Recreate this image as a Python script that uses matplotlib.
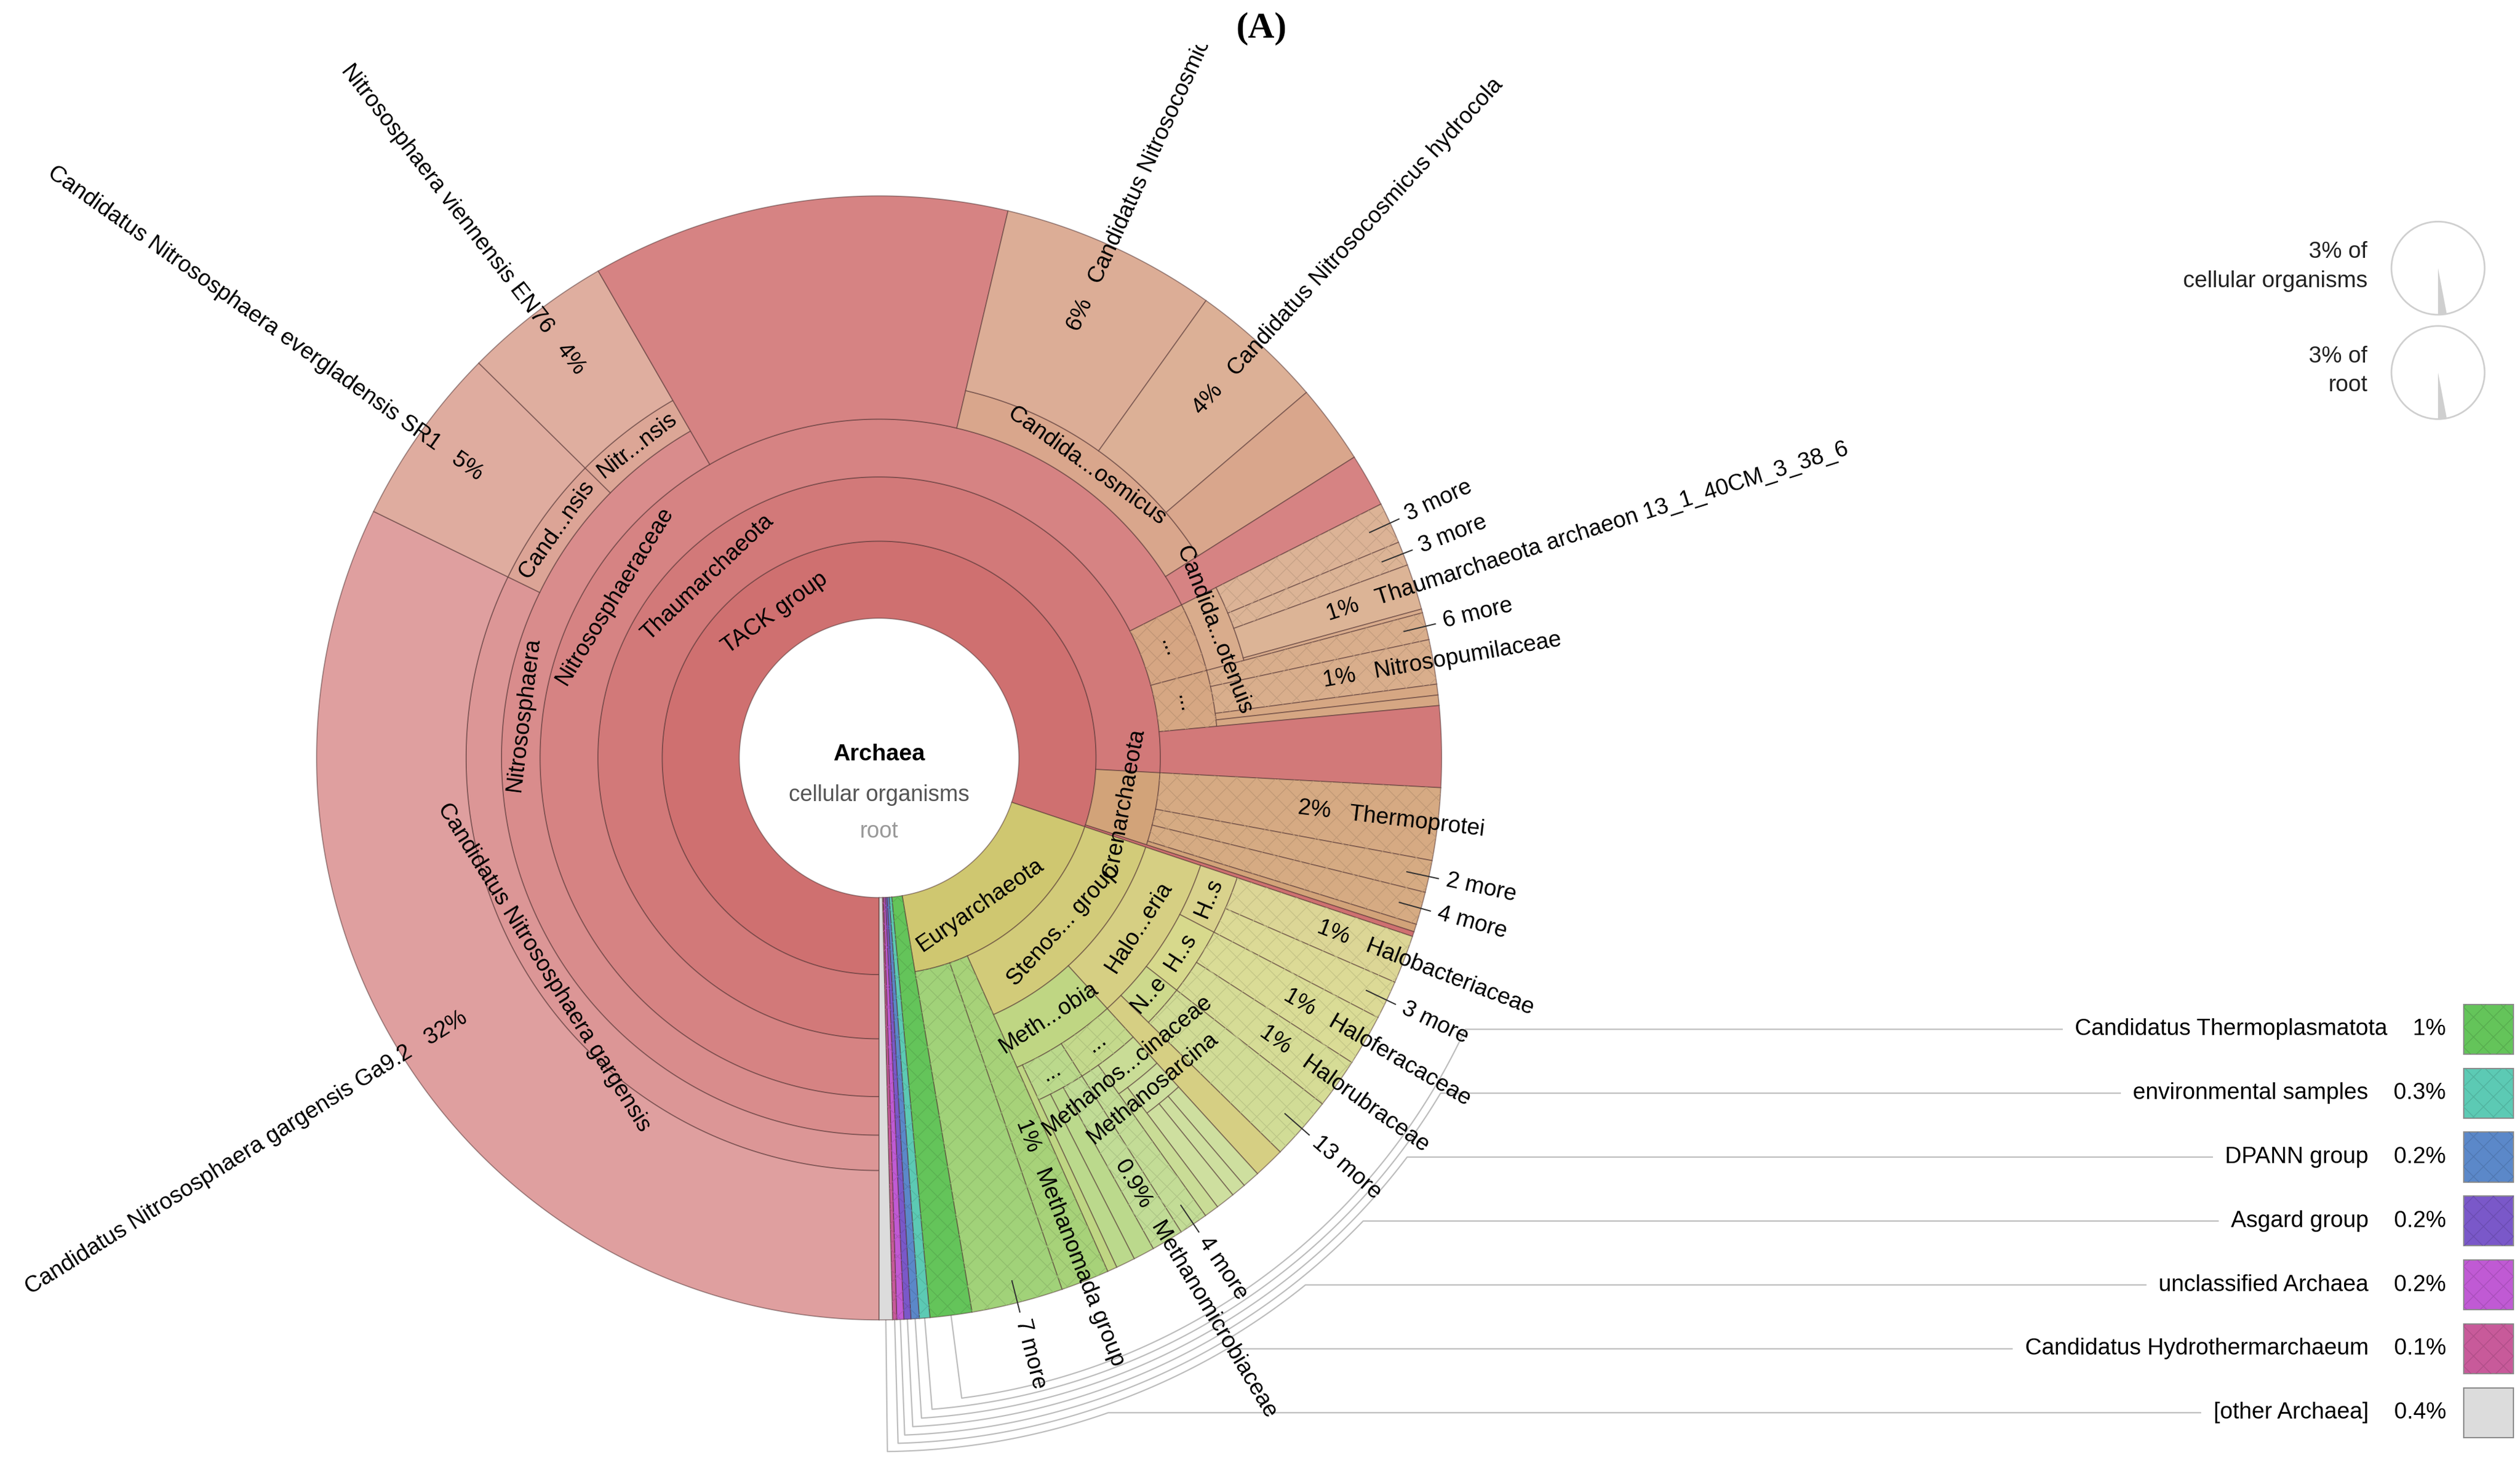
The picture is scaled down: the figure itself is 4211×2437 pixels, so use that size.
import colorsys
import numpy as np
import matplotlib
matplotlib.use("Agg")
import matplotlib.pyplot as plt
from matplotlib.patches import Polygon, Circle, Rectangle

plt.rcParams['font.family'] = ['Liberation Sans', 'DejaVu Sans']
plt.rcParams['hatch.linewidth'] = 1.0

# ---------------- data (percent of Archaea) ----------------
nitrososphaera = [
    ("Candidatus Nitrososphaera gargensis", [("Candidatus Nitrososphaera gargensis Ga9.2", 32.22)]),
    ("Cand...nsis", [("Candidatus Nitrososphaera evergladensis SR1", 5.17)]),
    ("Nitr...nsis", [("Nitrososphaera viennensis EN76", 4.28)]),
]
nitrosocosmicus = [
    ("Candidatus Nitrosocosmicus oleophilus", 6.19),
    ("Candidatus Nitrosocosmicus hydrocola", 3.86),
    ("", 2.28),
]
nitrososphaeraceae = [
    ("Nitrososphaera", nitrososphaera),
    ("", 12.0),
    ("Candida...osmicus", nitrosocosmicus),
    ("", 1.53),
]
nitrosotenuis = [("3 more", 1.19), ("3 more", 0.69),
                 ("Thaumarchaeota archaeon 13_1_40CM_3_38_6", 1.31), ("", 0.11)]
nitrosopumilales = [("6 more", 0.78), ("Nitrosopumilaceae", 1.28), ("", 0.31), ("", 0.30)]
thaumarchaeota = [
    ("Nitrososphaeraceae", nitrososphaeraceae),
    ("...", [("Candida...otenuis", nitrosotenuis)]),
    ("...", nitrosopumilales),
    ("", 2.33),
]
crenarchaeota = [("Thermoprotei", 2.08), ("2 more", 0.92), ("4 more", 0.94), ("", 0.22)]
tack = [("Thaumarchaeota", thaumarchaeota), ("Crenarchaeota", crenarchaeota), ("", 0.14)]

halobacteria = [
    ("H..s", [("Halobacteriaceae", 1.39), ("3 more", 1.11)]),
    ("H..s", [("Haloferacaceae", 1.47), ("Halorubraceae", 1.44)]),
    ("N..e", [("13 more", 1.81)]),
    ("", 0.89),
]
methanomicrobia = [
    ("...", [("Methanos...cinaceae", [("Methanosarcina", [("", 0.50), ("", 0.42), ("", 0.55)]),
                                      ("", 0.42)]),
             ("4 more", 0.83)]),
    ("...", [("Methanomicrobiaceae", 0.92), ("", 0.61), ("", 0.55)]),
    ("", 0.28),
]
euryarchaeota = [
    ("Stenos... group", [("Halo...eria", halobacteria), ("Meth...obia", methanomicrobia)]),
    ("Methanomada group", 1.39),
    ("7 more", 2.63),
]
small_groups = ["Candidatus Thermoplasmatota", "environmental samples", "DPANN group",
                "Asgard group", "unclassified Archaea", "Candidatus Hydrothermarchaeum",
                "[other Archaea]"]
small_values = [1.2, 0.3, 0.24, 0.2, 0.2, 0.12, 0.38]

archaea = [("TACK group", tack), ("Euryarchaeota", euryarchaeota)] + \
          list(zip(small_groups, small_values))

share_of = ["cellular organisms", "root"]
share_pct = [3, 3]

# ---------------- style ----------------
TOP_HUES = {"TACK group": (0, 30), "Euryarchaeota": (55, 45)}
KEY_COLORS = ["#64c45a", "#5ccab4", "#5b88c9", "#7a58c9", "#c05ad4", "#c85a9a", "#dcdcdc"]
UNHATCHED = {"Candidatus Nitrososphaera gargensis Ga9.2", "Candidatus Nitrososphaera evergladensis SR1",
             "Nitrososphaera viennensis EN76", "Candidatus Nitrosocosmicus oleophilus",
             "Candidatus Nitrosocosmicus hydrocola", "Thaumarchaeota archaeon 13_1_40CM_3_38_6",
             "[other Archaea]"}
LABEL_NUDGE = {"Nitrososphaera": 22, "Euryarchaeota": 6}

W, H, TOP = 1568, 908, 28
CX, CY = 547, 472
RINGS = [87, 135, 175, 211, 235, 257, 277, 295]
R = 350
FS = 27.5
EDGE = (0.3, 0.18, 0.18, 0.5)
START = 180.0

fig = plt.figure(figsize=(42.11, 24.37), dpi=100)
ax = fig.add_axes([0, 0, 1, (H - TOP) / H])
ax.set_xlim(0, W)
ax.set_ylim(H, TOP)
ax.axis('off')


def pt(theta, r):
    t = np.radians(theta)
    return CX + r * np.sin(t), CY - r * np.cos(t)


def band(t0, t1, r0, r1):
    n = max(2, int(abs(t1 - t0) / 0.3) + 2)
    ts = np.linspace(t0, t1, n)
    return [pt(t, r1) for t in ts] + [pt(t, r0) for t in ts[::-1]]


def total(node):
    v = node[1]
    return sum(total(c) for c in v) if isinstance(v, list) else v


GRAND = sum(total(n) for n in archaea)

top_span = {}
a = START
for n in archaea:
    s = total(n) / GRAND * 360
    top_span[n[0]] = (a, a + s)
    a += s


def color_for(top, theta, depth):
    if top in small_groups:
        return matplotlib.colors.to_rgb(KEY_COLORS[small_groups.index(top)])
    h0, hs = TOP_HUES[top]
    a0, a1 = top_span[top]
    h = (h0 + hs * (theta - a0) / (a1 - a0)) % 360
    return colorsys.hls_to_rgb(h / 360, 0.60 + 0.025 * depth, 0.5)


def pct_text(v):
    p = v / GRAND * 100
    return f"{p:.0f}%" if p >= 0.95 else f"{p:.1f}%"


def draw_band(t0, t1, r0, r1, col, hatch):
    pts = band(t0, t1, r0, r1)
    ax.add_patch(Polygon(pts, closed=True, fc=col, ec=EDGE, lw=1.3, zorder=2))
    if hatch:
        hc = tuple(c * 0.9 for c in col)
        ax.add_patch(Polygon(pts, closed=True, fc='none', ec=hc, lw=0, hatch='x', zorder=2.1))


def tangential(name, tm, rm):
    x, y = pt(tm, rm)
    rot = (-tm) % 360
    if 90 < rot <= 270:
        rot -= 180
    elif rot > 270:
        rot -= 360
    ax.text(x, y, name, rotation=rot, rotation_mode='anchor', ha='center', va='center',
            fontsize=FS, clip_on=True, zorder=5)


def radial(name, v, tm, r0):
    x, y = pt(tm, r0)
    t = tm % 360
    if t < 180:
        ax.text(x, y, f"{pct_text(v)}   {name}", rotation=90 - t, rotation_mode='anchor',
                ha='left', va='center', fontsize=FS, clip_on=True, zorder=5)
    else:
        ax.text(x, y, f"{name}   {pct_text(v)}", rotation=270 - t, rotation_mode='anchor',
                ha='right', va='center', fontsize=FS, clip_on=True, zorder=5)


def more_label(name, tm):
    x0, y0 = pt(tm, R - 14)
    x1, y1 = pt(tm, R + 6)
    ax.plot([x0, x1], [y0, y1], color='#333333', lw=1.5, zorder=5)
    x2, y2 = pt(tm, R + 11)
    ax.text(x2, y2, name, rotation=90 - tm % 360, rotation_mode='anchor', ha='left', va='center',
            fontsize=FS, clip_on=True, zorder=5)


key_mid = {}


def walk(node, depth, t0, top, parent_col):
    name, v = node
    t1 = t0 + total(node) / GRAND * 360
    tm = (t0 + t1) / 2
    col = color_for(top, t0, depth) if name else parent_col
    r0 = RINGS[depth - 1]
    if isinstance(v, list):
        draw_band(t0, t1, r0, RINGS[depth], col, name == "...")
        tangential(name, tm + LABEL_NUDGE.get(name, 0), (r0 + RINGS[depth]) / 2)
        t = t0
        for c in v:
            t = walk(c, depth + 1, t, top, col)
    else:
        hatch = bool(name) and name not in UNHATCHED
        draw_band(t0, t1, r0, R, col, hatch)
        if name in small_groups:
            key_mid[name] = tm % 360
        elif name.endswith(" more"):
            more_label(name, tm)
        elif name:
            radial(name, v, tm, r0 + 0.5 * (R - r0))
    return t1


t = START
for n in archaea:
    t = walk(n, 1, t, n[0], None)

# ---------------- centre ----------------
ax.text(CX, 470, "Archaea", ha='center', va='center', fontsize=28, fontweight='bold', zorder=6)
ax.text(CX, 495, "cellular organisms", ha='center', va='center', fontsize=27, color='#555555', zorder=6)
ax.text(CX, 518, "root", ha='center', va='center', fontsize=27, color='#999999', zorder=6)

# ---------------- key ----------------
renderer = fig.canvas.get_renderer()
inv = ax.transData.inverted()
KEY_Y0, KEY_DY = 641, 39.8
KEY_R0, KEY_RSTEP = 402, 5.0
for k, (name, v) in enumerate(zip(small_groups, small_values)):
    yk = KEY_Y0 + KEY_DY * k
    txt = ax.text(1522, yk, f"{name}    {pct_text(v)}", ha='right', va='center', fontsize=FS, zorder=6)
    bb = txt.get_window_extent(renderer)
    xl = inv.transform((bb.x0, bb.y0))[0] - 8
    col = KEY_COLORS[k]
    ax.add_patch(Rectangle((1533, yk - 15.5), 31, 31, fc=col, ec='#8a8a8a', lw=1.5, zorder=6))
    if name not in UNHATCHED:
        hc = tuple(c * 0.88 for c in matplotlib.colors.to_rgb(col))
        ax.add_patch(Rectangle((1533, yk - 15.5), 31, 31, fc='none', ec=hc, lw=0, hatch='x', zorder=6.1))
    rk = KEY_R0 + KEY_RSTEP * k
    phi = np.degrees(np.arccos((CY - yk) / rk))
    tm = key_mid[name]
    ts = np.linspace(tm, phi, 120)
    xs = [pt(tm, R)[0]] + [pt(tt, rk)[0] for tt in ts] + [xl]
    ys = [pt(tm, R)[1]] + [pt(tt, rk)[1] for tt in ts] + [yk]
    ax.plot(xs, ys, color='#bdbdbd', lw=1.6, zorder=1)

# ---------------- share pies ----------------
for k, (who, p) in enumerate(zip(share_of, share_pct)):
    cy = 167 + 65 * k
    ax.add_patch(Circle((1517, cy), 29, fill=False, ec='#cfcfcf', lw=2, zorder=6))
    th = np.linspace(180 - p * 3.6, 180, 20)
    pts = [(1517, cy)] + [(1517 + 29 * np.sin(np.radians(q)), cy - 29 * np.cos(np.radians(q))) for q in th]
    ax.add_patch(Polygon(pts, closed=True, fc='#cfcfcf', ec='none', zorder=6))
    ax.text(1473, cy - 10, f"{p}% of", ha='right', va='center', fontsize=FS, color='#222222', zorder=6)
    ax.text(1473, cy + 8, who, ha='right', va='center', fontsize=FS, color='#222222', zorder=6)

fig.text(785 / W, 1 - 18 / H, "(A)", ha='center', va='center', fontsize=44,
         fontweight='bold', family=['Liberation Serif', 'DejaVu Serif'])

fig.savefig("out.png", dpi=100, facecolor='white')
